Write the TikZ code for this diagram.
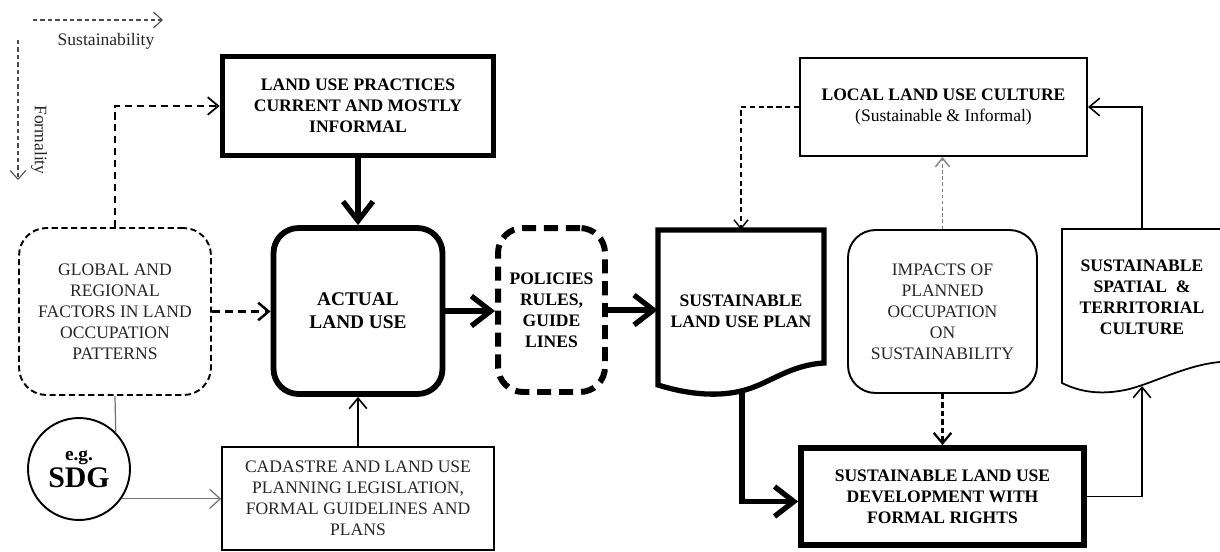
\documentclass[tikz,border=0pt]{standalone}
\usepackage{fontspec}
\setmainfont{Liberation Serif}
\usetikzlibrary{arrows.meta,calc}
\tikzset{
  every node/.style={align=center, inner sep=0pt},
  normtxt/.style={font=\fontsize{10}{12}\selectfont, text=black!85},
  boldtxt/.style={font=\fontsize{10}{12}\selectfont\bfseries, text=black},
  thickbox/.style={draw, line width=3.3pt},
  thinbox/.style={draw, line width=1.1pt},
  globbox/.style={draw, line width=1.1pt, dash pattern=on 3.5pt off 2pt, rounded corners=0.55cm},
  polbox/.style={draw, line width=3.4pt, dash pattern=on 8pt off 4.5pt, rounded corners=0.5cm},
  ghost/.style={draw=none},
  thickarrow/.style={line width=3pt, -{Straight Barb[length=11pt,width=17pt]}},
  thinarrow/.style={line width=0.9pt, -{Straight Barb[length=6pt,width=10pt]}},
  grayarrow/.style={line width=0.7pt, draw=black!55, -{Straight Barb[length=6pt,width=11pt]}},
  grayline/.style={line width=0.7pt, draw=black!55},
  legarrow/.style={line width=0.6pt, draw=black!70, dash pattern=on 2.5pt off 1.7pt, -{Straight Barb[length=5pt,width=9pt]}},
  globlupdash/.style={line width=1pt, dash pattern=on 4pt off 2.8pt, -{Straight Barb[length=6pt,width=10pt]}},
  globactdash/.style={line width=1.4pt, dash pattern=on 4.5pt off 3pt, -{Straight Barb[length=6pt,width=10pt]}},
  localdash/.style={line width=0.8pt, dash pattern=on 3pt off 2pt, -{Straight Barb[length=5pt,width=8pt]}},
  impgray/.style={line width=0.8pt, draw=black!50, dash pattern=on 2pt off 1.5pt, -{Straight Barb[length=5pt,width=8pt]}},
  impdash/.style={line width=1.3pt, dash pattern=on 3pt off 1.8pt, -{Straight Barb[length=6pt,width=10pt]}},
}
\begin{document}
\begin{tikzpicture}[x=0.02cm, y=-0.02cm]
\useasboundingbox (0,0) rectangle (1220,551);

% legend
\coordinate (sus1) at (33,20);
\coordinate (sus2) at (163,20);
\coordinate (for1) at (18,40);
\coordinate (for2) at (18,180);
\draw[legarrow] (sus1) -- (sus2);
\draw[legarrow] (for1) -- (for2);
\node[normtxt] (sustxt) at (106,41) {Sustainability};
\node[normtxt, rotate=-90] (fortxt) at (39,140) {Formality};

% left part
\node[thickbox, boldtxt, minimum width=5.42cm, minimum height=1.98cm] (lup) at (358,106)
  {LAND USE PRACTICES\\CURRENT AND MOSTLY\\INFORMAL};
\node[thickbox, rounded corners=0.5cm, minimum width=3.38cm, minimum height=3.32cm,
  font=\fontsize{11}{13.3}\selectfont\bfseries] (act) at (358,311) {ACTUAL\\LAND USE};
\node[globbox, normtxt, minimum width=3.84cm, minimum height=3.34cm] (global) at (115,311.5)
  {GLOBAL AND\\REGIONAL\\FACTORS IN LAND\\OCCUPATION\\PATTERNS};
\node[draw, circle, line width=1.1pt, minimum size=2.04cm] (sdg) at (79,469)
  {\fontsize{11}{12}\selectfont\bfseries e.g.\\[1pt]\fontsize{17}{18}\selectfont\bfseries SDG};
\node[thinbox, normtxt, minimum width=5.44cm, minimum height=2.06cm] (cad) at (358,498.5)
  {CADASTRE AND LAND USE\\PLANNING LEGISLATION,\\FORMAL GUIDELINES AND\\PLANS};
\node[polbox, boldtxt, minimum width=2.14cm, minimum height=3.28cm] (pol) at (551.5,310)
  {POLICIES\\RULES,\\GUIDE\\LINES};

% sustainable land use plan (document)
\draw[line width=3pt] (658,385) -- (658,230) -- (824,230) -- (824,363)
  .. controls (790,365) and (770,383) .. (745,390)
  .. controls (720,397) and (690,395) .. cycle;
\node[ghost, minimum width=3.32cm, minimum height=3.1cm] (slup) at (741,307.5) {};
\node[boldtxt] (slupt) at (741,311) {SUSTAINABLE\\LAND USE PLAN};
\coordinate (slupb) at (742,390);

% right part
\node[thinbox, minimum width=5.74cm, minimum height=1.96cm] (local) at (943.5,107)
  {{\fontsize{10}{12}\selectfont\bfseries LOCAL LAND USE CULTURE}\\{\fontsize{10}{12}\selectfont (Sustainable \& Informal)}};
\node[thinbox, normtxt, rounded corners=0.55cm, minimum width=3.78cm, minimum height=3.26cm] (imp) at (942.5,311.5)
  {IMPACTS OF\\PLANNED\\OCCUPATION\\ON\\SUSTAINABILITY};
\node[thickbox, boldtxt, minimum width=5.66cm, minimum height=1.94cm] (slud) at (942.5,496.5)
  {SUSTAINABLE LAND USE\\DEVELOPMENT WITH\\FORMAL RIGHTS};

% sustainable spatial culture (document, cut at right edge)
\draw[line width=1pt] (1220,229) -- (1062,229) -- (1062,383)
  .. controls (1080,392) and (1100,395) .. (1125,390)
  .. controls (1150,385) and (1185,365) .. (1220,362);
\node[ghost, minimum width=3.2cm, minimum height=3.08cm] (sst) at (1142,306) {};
\node[boldtxt] (sstt) at (1142,297) {SUSTAINABLE\\SPATIAL ~\&\\TERRITORIAL\\CULTURE};
\coordinate (sstb) at (1142,386);

% connectors
\draw[globlupdash] (global.north) |- (lup.west);
\draw[globactdash] (global.east) -- (global.east -| act.west);
\draw[thickarrow] (lup.south) -- (act.north);
\draw[grayline] (global.south) -- (sdg.45);
\draw[grayarrow] (sdg.-35) -- (sdg.-35 -| cad.west);
\draw[thinarrow] (cad.north) -- (act.south);
\draw[thickarrow] (act.east) -- (act.east -| pol.west);
\draw[thickarrow] (pol.east) -- (pol.east -| slup.west);
\draw[thickarrow] (slupb) |- ([yshift=-0.1cm]slud.west);
\draw[localdash] (local.west) -| (slup.north);
\draw[impgray] (imp.north) -- (imp.north |- local.south);
\draw[impdash] (imp.south) -- (imp.south |- slud.north);
\draw[thinarrow] (slud.east) -| (sstb);
\draw[thinarrow] (sst.north) |- (local.east);
\end{tikzpicture}
\end{document}
